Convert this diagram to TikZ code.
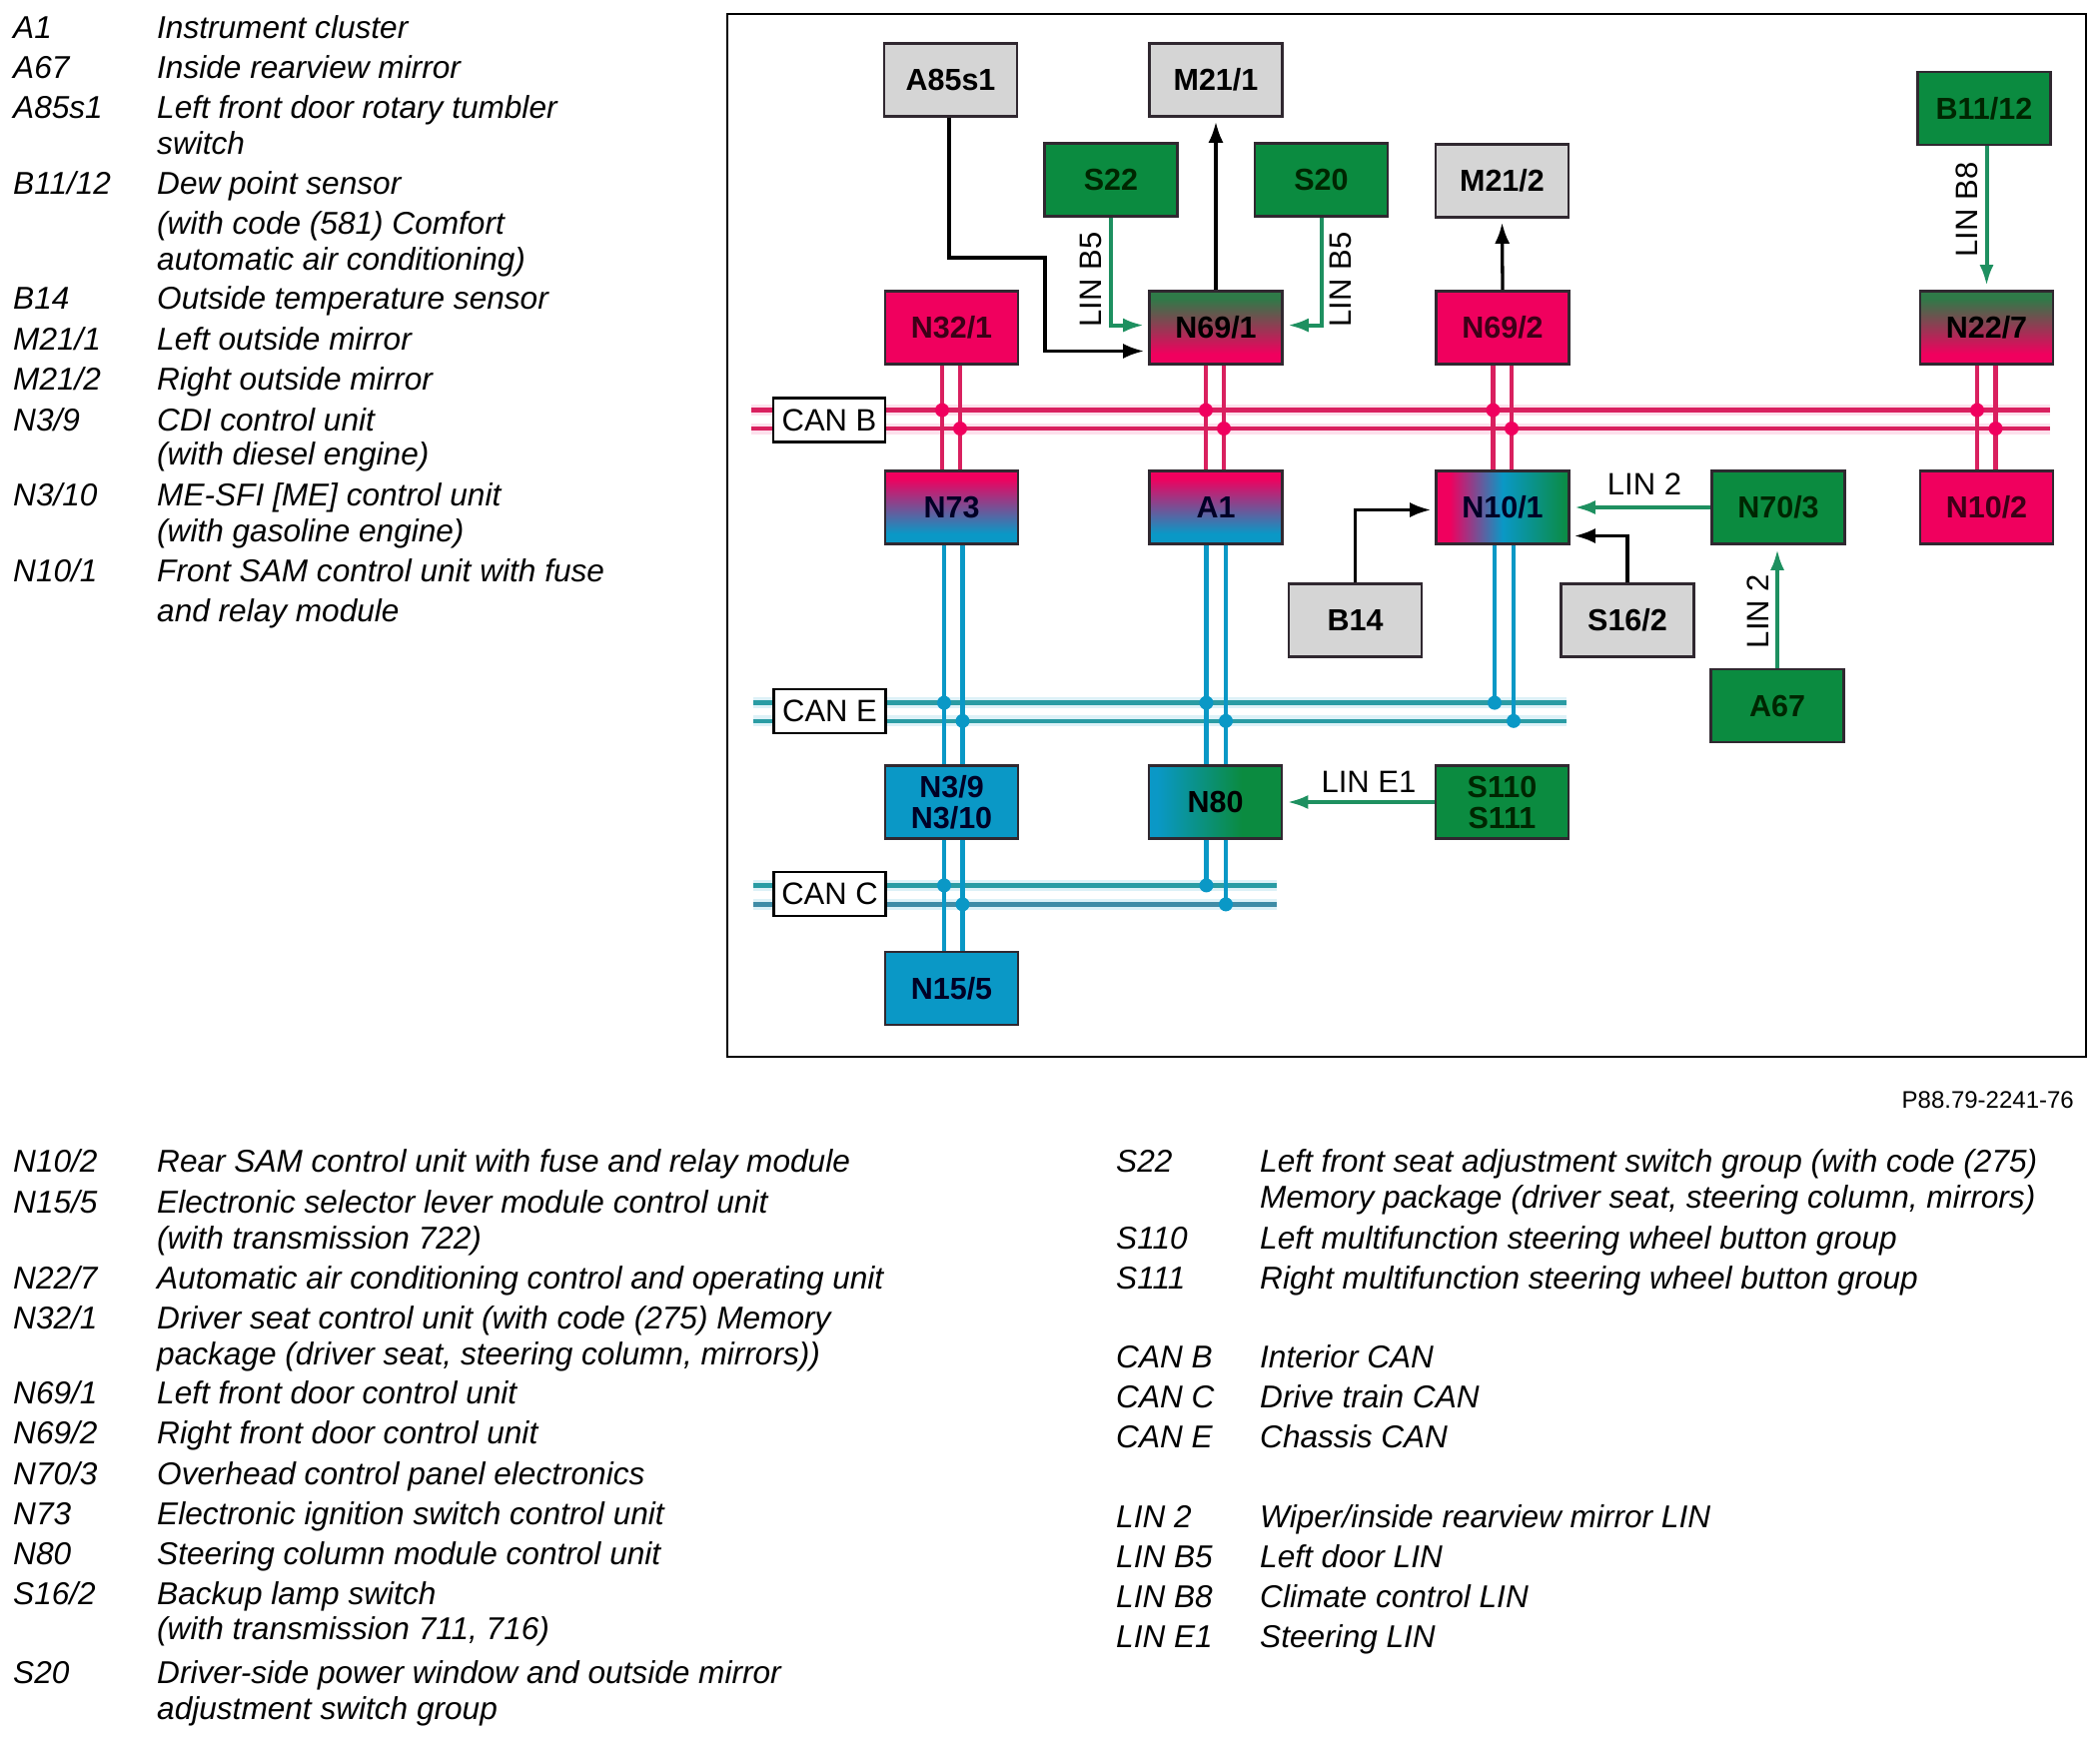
\documentclass[tikz,border=0pt]{standalone}
\usepackage{fontspec}
\setmainfont{Liberation Sans}
\usetikzlibrary{arrows.meta,shadings}
\pgfdeclarelayer{bg}
\pgfsetlayers{bg,main}
\definecolor{pk}{HTML}{F0005E}
\definecolor{pkbus}{HTML}{D9205F}
\definecolor{gn}{HTML}{0B8B40}
\definecolor{gnfade}{HTML}{2F7A48}
\definecolor{gnline}{HTML}{1E9060}
\definecolor{cy}{HTML}{0A98C6}
\definecolor{tealbus}{HTML}{2A9CA4}
\definecolor{cbus}{HTML}{3F8CA6}
\definecolor{gy}{HTML}{D5D5D5}
\definecolor{bd}{HTML}{302830}
\pgfdeclareverticalshading{shpc}{100bp}{color(0bp)=(cy);color(32bp)=(cy);color(70bp)=(pk);color(100bp)=(pk)}
\pgfdeclareverticalshading{shgp}{100bp}{color(0bp)=(pk);color(32bp)=(pk);color(70bp)=(gnfade);color(100bp)=(gnfade)}
\pgfdeclarehorizontalshading{shten}{100bp}{color(0bp)=(pk);color(30bp)=(pk);color(50bp)=(cy);color(75bp)=(gn);color(100bp)=(gn)}
\pgfdeclarehorizontalshading{sheighty}{100bp}{color(0bp)=(cy);color(28bp)=(cy);color(60bp)=(gn);color(100bp)=(gn)}
\newcounter{lgc}
\tikzset{
 box/.style={draw=bd,line width=2.6pt,minimum width=133pt,minimum height=73pt,inner sep=0pt,align=center,font=\fontsize{30.5}{31}\selectfont\bfseries},
 gybox/.style={box,fill=gy,text=black},
 gnbox/.style={box,fill=gn,text=black!85!green},
 pkbox/.style={box,fill=pk,text=black!75!pk},
 cybox/.style={box,fill=cy,text=black!85!blue},
 canbox/.style={draw=black,line width=2.8pt,fill=white,minimum width=112pt,minimum height=44pt,inner sep=0pt,font=\fontsize{31}{32}\selectfont},
 lnk/.style={font=\fontsize{31}{32}\selectfont,inner sep=0pt},
 blk/.style={draw=black,line width=3.3pt,-{Latex[length=21pt,width=15pt]},shorten >=4pt},
 grn/.style={draw=gnline,line width=4pt,-{Latex[length=21pt,width=14pt]},shorten >=4pt},
 pkl/.style={draw=pkbus,line width=4.6pt},
 cyl/.style={draw=cy,line width=4.6pt},
 tl/.style={draw=tealbus,line width=4.6pt},
 cl/.style={draw=cbus,line width=4.8pt},
 hpk/.style={draw=pk!12,line width=11pt},
 hcy/.style={draw=cy!14,line width=11pt},
 dotp/.style={circle,fill=pk,inner sep=0pt,minimum size=14pt},
 dotc/.style={circle,fill=cy,inner sep=0pt,minimum size=14pt},
 lega/.style={anchor=base west,inner sep=0pt,yshift=-0.8pt,font=\fontsize{31.6}{32}\selectfont\itshape},
}
\newcommand{\legL}[3]{\stepcounter{lgc}\node[lega] (lc\arabic{lgc}) at (13,#1) {#2};\node[lega] (lt\arabic{lgc}) at (157,#1) {#3};}
\newcommand{\legC}[2]{\stepcounter{lgc}\node[lega] (lt\arabic{lgc}) at (157,#1) {#2};}
\newcommand{\legR}[3]{\stepcounter{lgc}\node[lega] (lc\arabic{lgc}) at (1117,#1) {#2};\node[lega] (lt\arabic{lgc}) at (1261,#1) {#3};}
\newcommand{\legD}[2]{\stepcounter{lgc}\node[lega] (lt\arabic{lgc}) at (1261,#1) {#2};}
\begin{document}
\begin{tikzpicture}[x=1pt,y=-1pt]
\useasboundingbox (0,0) rectangle (2102,1742);
\node[draw=black,line width=2.4pt,minimum width=1360pt,minimum height=1044pt,inner sep=0pt] (frame) at (1408,536) {};
% boxes positions
\node[gybox] (a85) at (951.5,80) {A85s1};
\node[gybox] (m211) at (1217,80) {M21/1};
\node[gnbox] (s22) at (1112,180) {S22};
\node[gnbox] (s20) at (1322.5,180) {S20};
\node[gybox] (m212) at (1503.5,181) {M21/2};
\node[gnbox] (b1112) at (1986,108.5) {B11/12};
\node[pkbox] (n321) at (952.5,328) {N32/1};
\node[box,shading=shgp] (n691) at (1217,328) {N69/1};
\node[pkbox] (n692) at (1504,328) {N69/2};
\node[box,shading=shgp] (n227) at (1988.5,328) {N22/7};
\node[box,shading=shpc,text=black!85!blue] (n73) at (952.5,508) {N73};
\node[box,shading=shpc,text=black!85!blue] (a1) at (1217,508) {A1};
\node[box,shading=shten,text=black!85!blue] (n101) at (1504,508) {N10/1};
\node[gnbox] (n703) at (1780,508) {N70/3};
\node[pkbox] (n102) at (1988.5,508) {N10/2};
\node[gybox] (b14) at (1356.5,621) {B14};
\node[gybox] (s162) at (1629,621) {S16/2};
\node[gnbox] (a67) at (1779,706.5) {A67};
\node[cybox] (n39) at (952.5,803) {N3/9\\N3/10};
\node[box,shading=sheighty,text=black] (n80) at (1216.5,803) {N80};
\node[gnbox] (s110) at (1503.5,803) {S110\\S111};
\node[cybox] (n155) at (952.5,989.5) {N15/5};
% bus ends
\coordinate (bb1w) at (752,410.6); \coordinate (bb1e) at (2052,410.6);
\coordinate (bb2w) at (752,429); \coordinate (bb2e) at (2052,429);
\coordinate (be1w) at (754,703.6); \coordinate (be1e) at (1568,703.6);
\coordinate (be2w) at (754,721.8); \coordinate (be2e) at (1568,721.8);
\coordinate (bc1w) at (754,886.4); \coordinate (bc1e) at (1278,886.4);
\coordinate (bc2w) at (754,905.4); \coordinate (bc2e) at (1278,905.4);
% columns
\coordinate (pa1) at ([xshift=-9.5pt]n321.south); \coordinate (pa2) at ([xshift=8.5pt]n321.south);
\coordinate (pb1) at ([xshift=-10pt]n691.south); \coordinate (pb2) at ([xshift=8pt]n691.south);
\coordinate (pc1) at ([xshift=-9.5pt]n692.south); \coordinate (pc2) at ([xshift=9pt]n692.south);
\coordinate (pd1) at ([xshift=-9.5pt]n227.south); \coordinate (pd2) at ([xshift=9pt]n227.south);
\coordinate (ca1) at ([xshift=-7.5pt]n73.south); \coordinate (ca2) at ([xshift=11pt]n73.south);
\coordinate (cb1) at ([xshift=-9.5pt]a1.south); \coordinate (cb2) at ([xshift=10pt]a1.south);
\coordinate (cc1) at ([xshift=-8pt]n101.south); \coordinate (cc2) at ([xshift=11pt]n101.south);
\begin{pgfonlayer}{bg}
% halos
\draw[hpk] (bb1w) -- (bb1e); \draw[hpk] (bb2w) -- (bb2e);
\draw[hcy] (be1w) -- (be1e); \draw[hcy] (be2w) -- (be2e);
\draw[hcy] (bc1w) -- (bc1e); \draw[hcy] (bc2w) -- (bc2e);
% buses
\draw[pkl] (bb1w) -- (bb1e); \draw[pkl] (bb2w) -- (bb2e);
\draw[tl] (be1w) -- (be1e); \draw[tl] (be2w) -- (be2e);
\draw[tl] (bc1w) -- (bc1e); \draw[cl] (bc2w) -- (bc2e);
% pink verticals
\draw[pkl] (pa1) -- (pa1 |- n73.north); \draw[pkl] (pa2) -- (pa2 |- n73.north);
\draw[pkl] (pb1) -- (pb1 |- a1.north); \draw[pkl] (pb2) -- (pb2 |- a1.north);
\draw[pkl] (pc1) -- (pc1 |- n101.north); \draw[pkl] (pc2) -- (pc2 |- n101.north);
\draw[pkl] (pd1) -- (pd1 |- n102.north); \draw[pkl] (pd2) -- (pd2 |- n102.north);
% cyan verticals
\draw[cyl] (ca1) -- (ca1 |- n155.north); \draw[cyl] (ca2) -- (ca2 |- n155.north);
\draw[cyl] (cb1) -- (cb1 |- bc1w); \draw[cyl] (cb2) -- (cb2 |- bc2w);
\draw[cyl] (cc1) -- (cc1 |- be1w); \draw[cyl] (cc2) -- (cc2 |- be2w);
% dots
\node[dotp] (j1) at (pa1 |- bb1w) {}; \node[dotp] (j2) at (pa2 |- bb2w) {};
\node[dotp] (j3) at (pb1 |- bb1w) {}; \node[dotp] (j4) at (pb2 |- bb2w) {};
\node[dotp] (j5) at (pc1 |- bb1w) {}; \node[dotp] (j6) at (pc2 |- bb2w) {};
\node[dotp] (j7) at (pd1 |- bb1w) {}; \node[dotp] (j8) at (pd2 |- bb2w) {};
\node[dotc] (k1) at (ca1 |- be1w) {}; \node[dotc] (k2) at (ca2 |- be2w) {};
\node[dotc] (k3) at (cb1 |- be1w) {}; \node[dotc] (k4) at (cb2 |- be2w) {};
\node[dotc] (k5) at (cc1 |- be1w) {}; \node[dotc] (k6) at (cc2 |- be2w) {};
\node[dotc] (k7) at (ca1 |- bc1w) {}; \node[dotc] (k8) at (ca2 |- bc2w) {};
\node[dotc] (k9) at (cb1 |- bc1w) {}; \node[dotc] (k10) at (cb2 |- bc2w) {};
\end{pgfonlayer}
% CAN labels
\node[canbox] (canb) at (830,420.5) {CAN B};
\node[canbox] (cane) at (830.5,712) {CAN E};
\node[canbox] (canc) at (830.5,895) {CAN C};
% black connectors
\coordinate (abend) at (1046,258);
\draw[blk] ([xshift=-1.5pt]a85.south) |- (abend) |- ([yshift=-23.5pt]n691.west);
\draw[blk] (n691.north) -- (m211.south);
\draw[blk] (n692.north) -- (m212.south);
\draw[blk] (b14.north) |- ([yshift=-2.5pt]n101.west);
\draw[blk] (s162.north) |- ([yshift=-28.5pt]n101.east);
% green connectors
\draw[grn] (s22.south) |- ([yshift=2.4pt]n691.west);
\draw[grn] (s20.south) |- ([yshift=2.4pt]n691.east);
\draw[grn] (b1112.south -| n227.north) -- (n227.north);
\draw[grn] (n703.west) -- (n101.east);
\draw[grn] (a67.north) -- (a67.north |- n703.south);
\draw[grn] (s110.west) -- (n80.east);
% link labels
\node[lnk,rotate=90] (l1) at (1092,280) {LIN B5};
\node[lnk,rotate=90] (l2) at (1342,280) {LIN B5};
\node[lnk,rotate=90] (l3) at (1969,210) {LIN B8};
\node[lnk] (l4) at (1646,485) {LIN 2};
\node[lnk,rotate=90] (l5) at (1760,612) {LIN 2};
\node[lnk] (l6) at (1370,783) {LIN E1};
\node[anchor=base east,inner sep=0pt,font=\fontsize{24}{26}\selectfont] (ref) at (2076,1109) {P88.79-2241-76};
% legend
\legL{37.5}{A1}{Instrument cluster}
\legL{77.8}{A67}{Inside rearview mirror}
\legL{118}{A85s1}{Left front door rotary tumbler}
\legC{154}{switch}
\legL{194}{B11/12}{Dew point sensor}
\legC{233.3}{(with code (581) Comfort}
\legC{269.5}{automatic air conditioning)}
\legL{308.3}{B14}{Outside temperature sensor}
\legL{350}{M21/1}{Left outside mirror}
\legL{390}{M21/2}{Right outside mirror}
\legL{430.3}{N3/9}{CDI control unit}
\legC{465}{(with diesel engine)}
\legL{505.4}{N3/10}{ME-SFI [ME] control unit}
\legC{541.6}{(with gasoline engine)}
\legL{582}{N10/1}{Front SAM control unit with fuse}
\legC{622}{and relay module}
\legL{1173}{N10/2}{Rear SAM control unit with fuse and relay module}
\legL{1213.2}{N15/5}{Electronic selector lever module control unit}
\legC{1249.6}{(with transmission 722)}
\legL{1289.6}{N22/7}{Automatic air conditioning control and operating unit}
\legL{1330}{N32/1}{Driver seat control unit (with code (275) Memory}
\legC{1366}{package (driver seat, steering column, mirrors))}
\legL{1405}{N69/1}{Left front door control unit}
\legL{1445}{N69/2}{Right front door control unit}
\legL{1485.4}{N70/3}{Overhead control panel electronics}
\legL{1525.6}{N73}{Electronic ignition switch control unit}
\legL{1566}{N80}{Steering column module control unit}
\legL{1606}{S16/2}{Backup lamp switch}
\legC{1641}{(with transmission 711, 716)}
\legL{1685}{S20}{Driver-side power window and outside mirror}
\legC{1721}{adjustment switch group}
\legR{1173}{S22}{Left front seat adjustment switch group (with code (275)}
\legD{1209}{Memory package (driver seat, steering column, mirrors)}
\legR{1249.6}{S110}{Left multifunction steering wheel button group}
\legR{1289.6}{S111}{Right multifunction steering wheel button group}
\legR{1369}{CAN B}{Interior CAN}
\legR{1409}{CAN C}{Drive train CAN}
\legR{1449}{CAN E}{Chassis CAN}
\legR{1528.3}{LIN 2}{Wiper/inside rearview mirror LIN}
\legR{1568.5}{LIN B5}{Left door LIN}
\legR{1608.7}{LIN B8}{Climate control LIN}
\legR{1649}{LIN E1}{Steering LIN}
\end{tikzpicture}
\end{document}
